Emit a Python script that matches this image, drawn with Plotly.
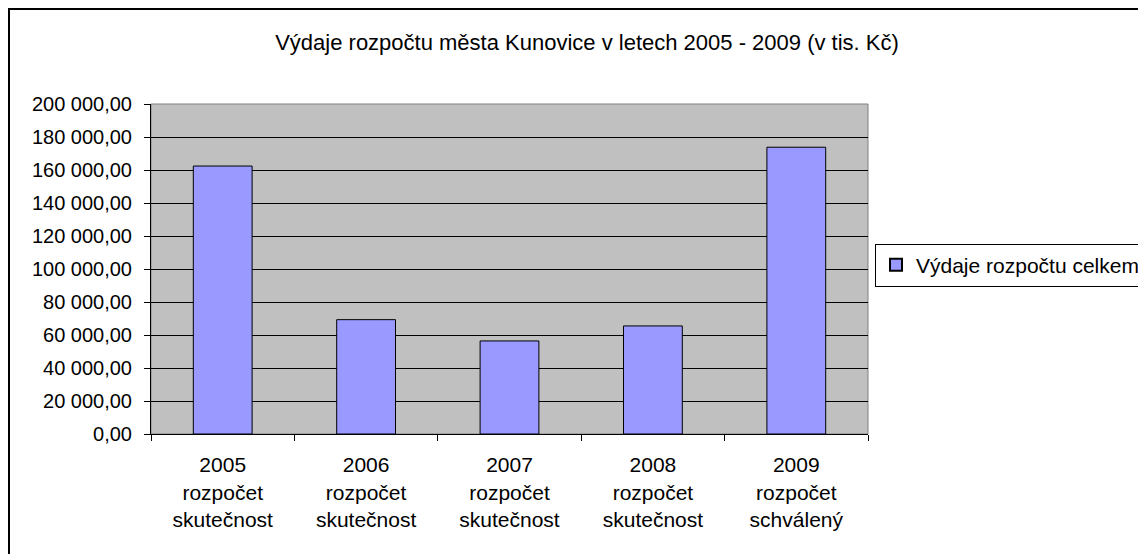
import plotly.graph_objects as go

categories = ["2005<br>rozpočet<br>skutečnost", "2006<br>rozpočet<br>skutečnost",
              "2007<br>rozpočet<br>skutečnost", "2008<br>rozpočet<br>skutečnost",
              "2009<br>rozpočet<br>schválený"]
values = [162400, 69300, 56400, 65500, 173800]
series_name = "Výdaje rozpočtu celkem"
title_text = "Výdaje rozpočtu města Kunovice v letech 2005 - 2009 (v tis. Kč)"
y_ticks = [0, 20000, 40000, 60000, 80000, 100000, 120000, 140000, 160000, 180000, 200000]

FONT = "Liberation Sans, Arial, sans-serif"

# figure div is offset 8px by the page body margin
W, H = 1138, 546
L, R, T, B = 143, 860, 96, 426  # plot area in div coords
PW, PH = R - L, B - T

fig = go.Figure()
fig.add_trace(go.Bar(
    x=categories, y=values, name=series_name,
    marker=dict(color="#9999FF", line=dict(color="#000000", width=1)),
    width=0.41, showlegend=True,
))

fig.update_layout(
    width=W, height=H,
    margin=dict(l=L, r=W - R, t=T, b=H - B, autoexpand=False),
    paper_bgcolor="white", plot_bgcolor="#C0C0C0",
    separators=", ",
    font=dict(family=FONT, size=20, color="#000000"),
    title=dict(text=title_text, x=579 / W, xanchor="center", y=1 - 34 / H, yanchor="middle",
               font=dict(family=FONT, size=22, color="#000000")),
    showlegend=True,
    legend=dict(x=(867 - L) / PW, xanchor="left", y=(B - 257) / PH, yanchor="middle",
                bgcolor="white", bordercolor="#000000", borderwidth=1,
                font=dict(family=FONT, size=21, color="#000000"),
                itemsizing="constant"),
)

fig.update_yaxes(range=[0, 200000], tickvals=y_ticks, tickformat=",.2f",
                 showgrid=True, gridcolor="#000000", gridwidth=1,
                 showline=True, linecolor="#000000", linewidth=1,
                 ticks="outside", ticklen=6, tickcolor="#000000",
                 ticklabelstandoff=8,
                 zeroline=False, tickfont=dict(size=20))
fig.update_xaxes(showline=True, linecolor="#000000", linewidth=1,
                 ticks="outside", ticklen=6, tickcolor="#000000", tickson="boundaries",
                 ticklabelstandoff=12,
                 showgrid=False, tickfont=dict(size=21))

fig.add_shape(type="rect", xref="paper", yref="paper", x0=0, x1=1, y0=0, y1=1,
              line=dict(color="#808080", width=1), layer="below")
fig.add_shape(type="rect", xref="paper", yref="paper",
              x0=(1 - L) / PW, x1=1.6, y0=-0.6, y1=(B - 1) / PH,
              line=dict(color="#000000", width=2), layer="above")

fig.write_html("out.html")
